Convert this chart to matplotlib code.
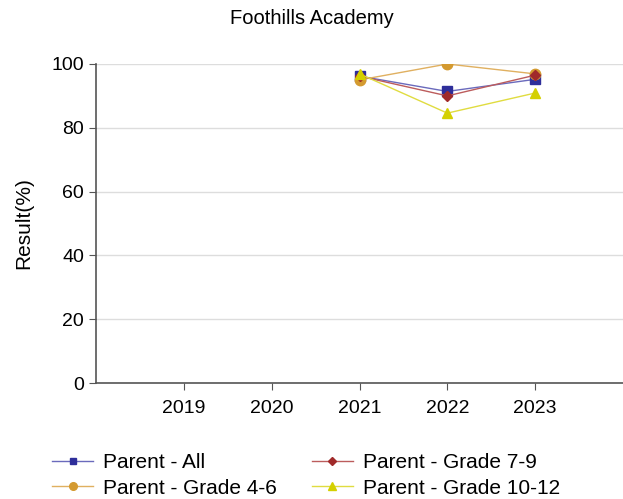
import numpy as np
import matplotlib.pyplot as plt

plt.rcParams['font.family'] = ['Liberation Sans', 'DejaVu Sans']

years = [2019, 2020, 2021, 2022, 2023]
x_years = [2021, 2022, 2023]
parent_all = [96.2, 91.4, 95.2]
grade_4_6 = [95.0, 100.0, 96.9]
grade_7_9 = [96.2, 90.0, 96.5]
grade_10_12 = [96.9, 84.6, 90.9]

series = [
    ("Parent - All", parent_all, 's', '#2e2e9a', '#6a6abc', 7),
    ("Parent - Grade 4-6", grade_4_6, 'o', '#d49a30', '#e0b060', 7.5),
    ("Parent - Grade 7-9", grade_7_9, 'D', '#a02a2a', '#bc5c5c', 5.5),
    ("Parent - Grade 10-12", grade_10_12, '^', '#d4d000', '#e0dc40', 7.5),
]
legend_ms = [5, 5.5, 3.8, 5.5]

fig = plt.figure(figsize=(6.23, 4.99), dpi=100)
ax = fig.add_axes([96 / 623, 1 - 383 / 499, 1 - 96 / 623, (383 - 64) / 499])

for label, vals, mk, mcol, lcol, ms in series:
    ax.plot(x_years, vals, color=lcol, lw=1, marker=mk, ms=ms,
            markerfacecolor=mcol, markeredgecolor=mcol, label=label)

ax.set_xlim(2018, 2024)
ax.set_ylim(0, 100)
ax.set_xticks(years)
ax.set_xticklabels([str(y) for y in years])
ax.set_yticks(np.arange(0, 101, 20))
ax.yaxis.grid(True, color='#dddddd', lw=1)
ax.set_axisbelow(True)
for s in ['top', 'right']:
    ax.spines[s].set_visible(False)
for s in ['left', 'bottom']:
    ax.spines[s].set_color('#555555')
    ax.spines[s].set_linewidth(1.2)
ax.tick_params(colors='#555555', labelcolor='black', labelsize=14, length=5)
ax.tick_params(axis='x', pad=7)
ax.set_ylabel("Result(%)", fontsize=15, labelpad=13)
fig.text(0.5, 1 - 18 / 499, "Foothills Academy", ha='center', va='center', fontsize=14.5)

handles, labels = ax.get_legend_handles_labels()
leg = fig.legend(handles, labels,
                 loc='center left', bbox_to_anchor=(52 / 623, 1 - 475.5 / 499),
                 ncol=2, frameon=False, fontsize=15, handlelength=1.97,
                 handletextpad=0.48, columnspacing=1.68, labelspacing=0.3,
                 borderpad=0, borderaxespad=0)
for h, ms in zip(leg.legend_handles, legend_ms):
    h.set_markersize(ms)

fig.savefig("out.png", dpi=100)
